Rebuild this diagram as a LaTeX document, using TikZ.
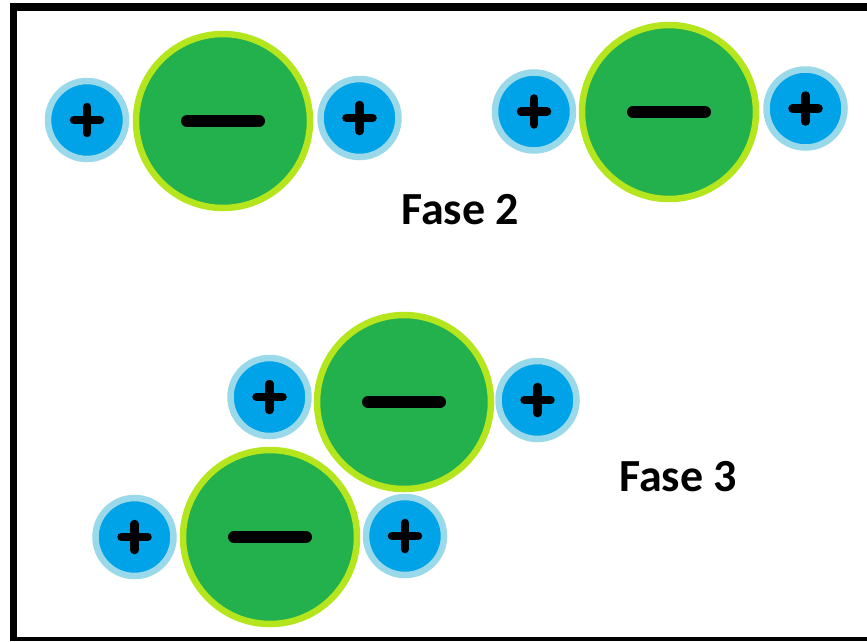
\documentclass[tikz,border=0pt]{standalone}
\usepackage{fontspec}
\setmainfont{Carlito}
\definecolor{ogreen}{HTML}{22B14C}
\definecolor{olime}{HTML}{B5E61D}
\definecolor{hblue}{HTML}{00A2E8}
\definecolor{hring}{HTML}{99D9EA}
\tikzset{
  hatom/.style={circle, inner sep=0pt, minimum size=78pt, fill=hblue, draw=hring, line width=6.5pt,
    path picture={
      \draw[black, line width=8.5pt, line cap=round] ([xshift=-13pt]path picture bounding box.center) -- ([xshift=13pt]path picture bounding box.center);
      \draw[black, line width=8.5pt, line cap=round] ([yshift=-13pt]path picture bounding box.center) -- ([yshift=13pt]path picture bounding box.center);
    }},
  oatom/.style={circle, inner sep=0pt, minimum size=174pt, fill=ogreen, draw=olime, line width=6.5pt,
    path picture={
      \draw[black, line width=12pt, line cap=round] ([xshift=-36pt]path picture bounding box.center) -- ([xshift=36pt]path picture bounding box.center);
    }},
  fase/.style={font=\fontsize{46}{52}\selectfont\bfseries, inner sep=0pt, anchor=base west}
}
\begin{document}
\begin{tikzpicture}[x=1pt, y=-1pt]
\useasboundingbox (0,0) rectangle (867,641);
\fill[white] (0,0) rectangle (867,641);
% frame
\fill[black] (10,3) rectangle (17,641);
\fill[black] (10,3) rectangle (867,11);
\fill[black] (10,637) rectangle (867,641);
% molecule 1
\node[oatom] (o1) at (223,121) {};
\node[hatom] (h1a) at (87,120) {};
\node[hatom] (h1b) at (359.5,118) {};
% molecule 2
\node[oatom] (o2) at (669,112) {};
\node[hatom] (h2a) at (534,111.5) {};
\node[hatom] (h2b) at (805.5,108.5) {};
% molecule 3
\node[oatom] (o3) at (404,402) {};
\node[hatom] (h3a) at (269.5,397) {};
\node[hatom] (h3b) at (537.5,400) {};
% molecule 4
\node[oatom] (o4) at (270,537) {};
\node[hatom] (h4a) at (134.5,537) {};
\node[hatom] (h4b) at (405,536) {};
% labels
\node[fase] (f2) at (401,224) {Fase 2};
\node[fase] (f3) at (619,491) {Fase 3};
\end{tikzpicture}
\end{document}
